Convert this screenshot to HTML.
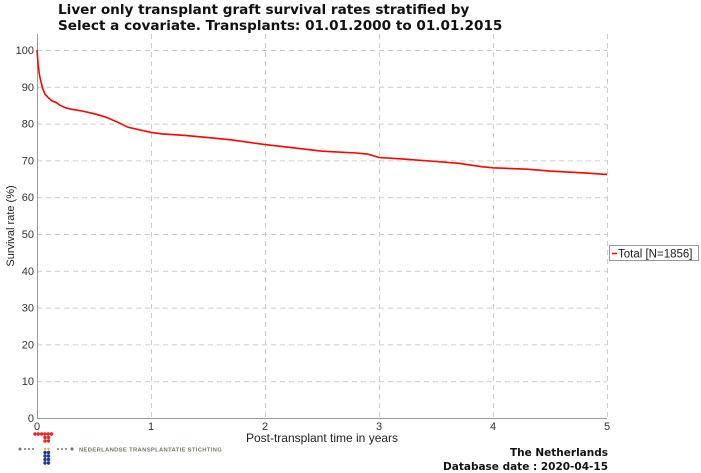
<!DOCTYPE html>
<html><head><meta charset="utf-8"><style>
body{margin:0;background:#fff;width:701px;height:473px;overflow:hidden;font-family:"Liberation Sans","DejaVu Sans",sans-serif}
svg{display:block}
</style></head><body>
<svg width="701" height="473" viewBox="0 0 701 473">
<g font-family="DejaVu Sans, Liberation Sans, sans-serif" font-weight="bold" font-size="13.6" fill="#111">
<text x="58" y="14">Liver only transplant graft survival rates stratified by</text>
<text x="58" y="30">Select a covariate. Transplants: 01.01.2000 to 01.01.2015</text>
</g>
<g id="grid"></g>
<g id="axes"></g>
<path id="curve" fill="none" stroke="#ff0000" stroke-width="1.6"/>
<text x="0" y="0" transform="translate(14,226) rotate(-90)" text-anchor="middle" font-size="11" fill="#222">Survival rate (%)</text>
<text x="322" y="442" text-anchor="middle" font-size="12" fill="#222">Post-transplant time in years</text>
<g>
<rect x="609.5" y="245.5" width="89" height="15" fill="#fff" stroke="#999"/>
<line x1="612" y1="253.5" x2="617" y2="253.5" stroke="#f00" stroke-width="1.5"/>
<text x="618" y="257.5" font-size="11.5" fill="#222">Total [N=1856]</text>
</g>
<g font-family="DejaVu Sans, Liberation Sans, sans-serif" font-weight="bold" font-size="10.5" fill="#111" text-anchor="end">
<text x="608" y="456">The Netherlands</text>
<text x="608" y="470">Database date : 2020-04-15</text>
</g>
<g id="logo">
<text x="79" y="451.5" font-size="5.9" font-weight="bold" fill="#777766" letter-spacing="0.3">NEDERLANDSE TRANSPLANTATIE STICHTING</text>
</g>
</svg>
<script>
const yTicks=[0,10,20,30,40,50,60,70,80,90,100];
const xTicks=[0,1,2,3,4,5];
const times=[0,0.005,0.01,0.02,0.03,0.05,0.07,0.1,0.13,0.17,0.2,0.25,0.3,0.4,0.5,0.6,0.7,0.8,0.9,1.0,1.1,1.3,1.5,1.7,2.0,2.2,2.5,2.8,2.9,3.0,3.2,3.5,3.7,3.9,4.0,4.3,4.5,4.8,5.0];
const survival=[100,98,96,93.5,92,89.5,88,87,86.2,85.7,85,84.3,83.9,83.4,82.7,81.8,80.5,79,78.3,77.6,77.2,76.8,76.2,75.6,74.3,73.6,72.5,72,71.7,70.8,70.4,69.7,69.2,68.3,68,67.6,67.1,66.6,66.2];
const NS="http://www.w3.org/2000/svg";
const X0=37,XPX=114,Y0=418,YPX=3.68,TOP=34,RIGHT=607;
const xs=v=>X0+v*XPX, ys=v=>Y0-v*YPX;
const grid=document.getElementById('grid'),axes=document.getElementById('axes');
function mk(tag,at,parent){const e=document.createElementNS(NS,tag);for(const k in at)e.setAttribute(k,at[k]);parent.appendChild(e);return e;}
yTicks.forEach(t=>{
 const l=mk('line',{x1:X0,x2:RIGHT,y1:ys(t)+0.5,y2:ys(t)+0.5,stroke:'#cccccc','stroke-dasharray':'5,4'},grid);
 
 
 const tx=mk('text',{x:X0-3,y:ys(t)+4,'text-anchor':'end','font-size':'11',fill:'#333'},axes);
 tx.textContent=t;
 
 
});
xTicks.forEach(t=>{
 const l=mk('line',{x1:xs(t)+0.5,x2:xs(t)+0.5,y1:TOP,y2:Y0,stroke:'#cccccc','stroke-dasharray':'5,4'},grid);
 
 
 const tx=mk('text',{x:xs(t),y:Y0+12,'text-anchor':'middle','font-size':'11',fill:'#333'},axes);
 tx.textContent=t;
 
 
});
const ya=mk('line',{x1:X0+0.5,x2:X0+0.5,y1:TOP,y2:Y0,stroke:'#999'},axes);


const xa=mk('line',{x1:X0,x2:RIGHT,y1:Y0+0.5,y2:Y0+0.5,stroke:'#999'},axes);


document.getElementById('curve').setAttribute('d',times.map((t,i)=>(i?'L':'M')+xs(t).toFixed(1)+','+ys(survival[i]).toFixed(1)).join(''));
const logo=document.getElementById('logo');
function dot(x,y,c,r){const d=mk('circle',{cx:x,cy:y,r:r||1.6,fill:c},logo);}
for(let i=0;i<6;i++)dot(35+i*3.3,434,'#ee2222',1.7);
[437.5,441].forEach(y=>{dot(45,y,'#ee2222',1.7);dot(48.5,y,'#ee2222',1.7);});
dot(45,449,'#f0b020',1.2);dot(48.5,449,'#f0b020',1.2);
[452.5,456,459.5,463].forEach(y=>{dot(45,y,'#1a3a9a',1.7);dot(48.5,y,'#1a3a9a',1.7);});
dot(20,449,'#777766',1.5);dot(25,449,'#777766',1);dot(29,449,'#777766',1);dot(33,449,'#777766',1);
dot(58,449,'#777766',1);dot(62,449,'#777766',1);dot(66,449,'#777766',1);dot(72,449,'#777766',1.6);
</script>
</body></html>
